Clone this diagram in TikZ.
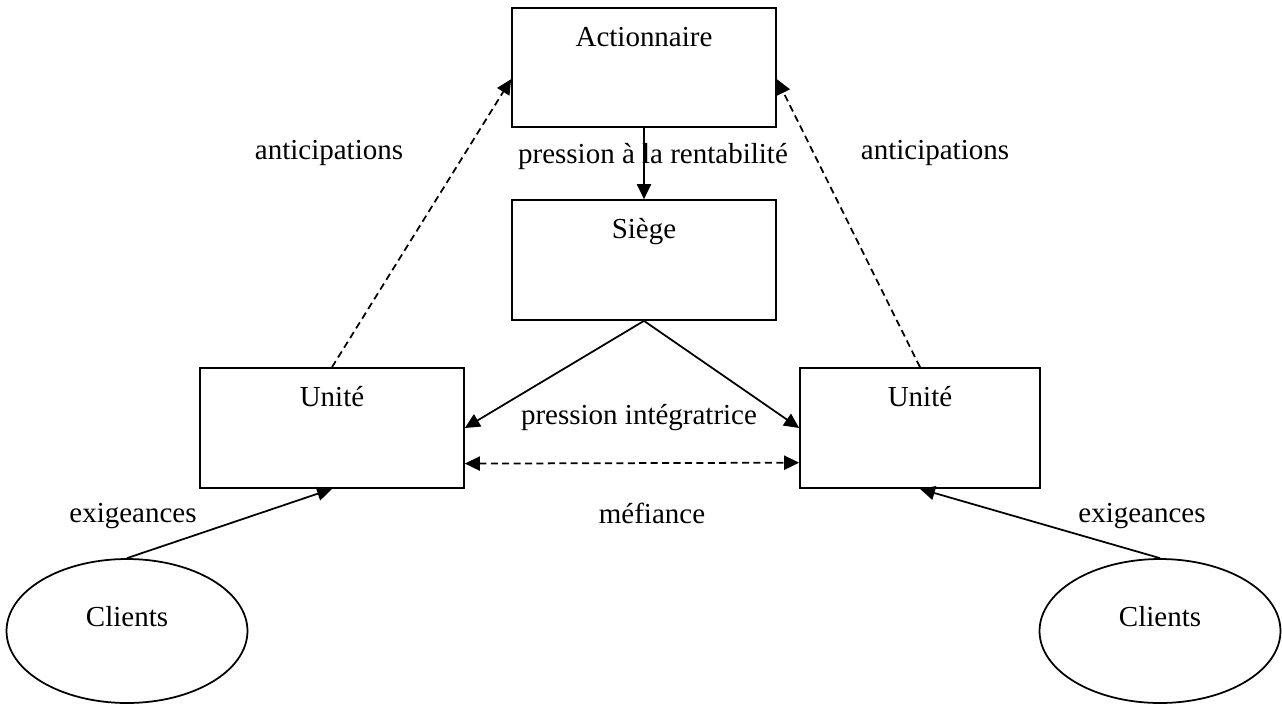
\documentclass[tikz,border=0pt]{standalone}
\usepackage{fontspec}
\setmainfont{Liberation Serif}
\usetikzlibrary{arrows.meta,shapes.geometric}

\begin{document}
\begin{tikzpicture}[x=0.02cm, y=-0.02cm,
        every node/.style={font=\fontsize{16.5}{20}\selectfont},
        box/.style={rectangle, draw, line width=1pt, minimum width=5.28cm, minimum height=2.4cm},
        client/.style={ellipse, draw, line width=1pt, minimum width=4.82cm, minimum height=2.88cm},
        titre/.style={anchor=base, yshift=-0.79cm},
        fleche/.style={line width=1pt},
        tirets/.style={line width=1pt, dash pattern=on 4pt off 2.5pt},
        >={Triangle[length=8.5pt, width=8pt]}]
        \useasboundingbox (0,0) rectangle (1282,704);

        % Actionnaire
        \node[box, minimum height=2.38cm, label={[titre]north:Actionnaire}] (act) at (644, 67.5) {};

        % Siege
        \node[box, label={[titre]north:Siège}] (siege) at (644, 260) {};

        % Unites
        \node[box, label={[titre]north:Unité}] (ul) at (332, 428) {};
        \node[box, minimum width=4.8cm, label={[titre]north:Unité}] (ur) at (920, 428) {};

        % Clients
        \node[client, label={[anchor=base, yshift=0.28cm]center:Clients}] (cl) at (127, 631) {};
        \node[client, label={[anchor=base, yshift=0.28cm]center:Clients}] (cr) at (1160, 631) {};

        % Labels
        \node (antl) at (329, 153) {anticipations};
        \node (antr) at (935, 153) {anticipations};
        \node (pint) at (639, 418) {pression intégratrice};
        \node (mef) at (652, 513) {méfiance};
        \node (exl) at (133, 516) {exigeances};
        \node (exr) at (1142, 516) {exigeances};

        % Arrows
        \draw[fleche, ->] (act) -- node[xshift=0.18cm, yshift=0.15cm] {pression à la rentabilité} (siege);
        \draw[fleche, ->] (siege.south) -- (ul.east);
        \draw[fleche, ->] (siege.south) -- (ur.west);
        \draw[tirets, <->] (ul.-15) -- (ur.196.4);
        \draw[tirets, ->] (ul.north) -- (act.185);
        \draw[tirets, ->] (ur.north) -- (act.355);
        \draw[fleche, ->] (cl.north) -- (ul.south);
        \draw[fleche, ->] (cr.north) -- (ur.south);
    \end{tikzpicture}
\end{document}
